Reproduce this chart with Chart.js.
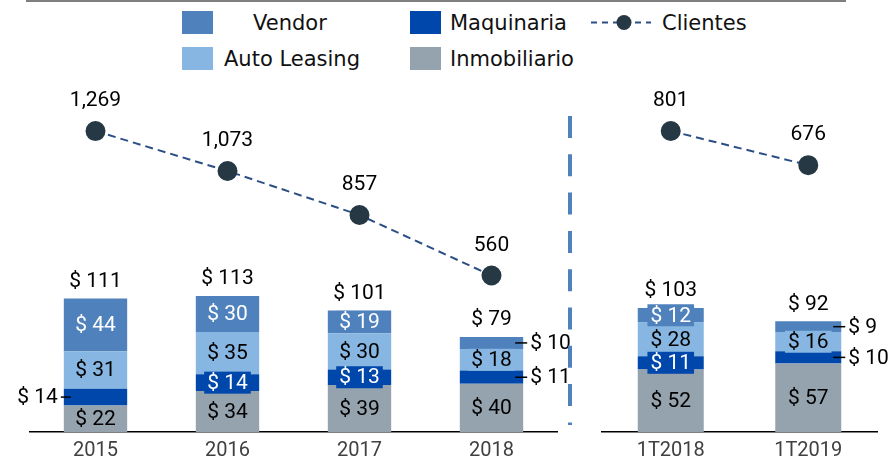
<!DOCTYPE html>
<html>
<head>
<meta charset="utf-8">
<script src="https://cdn.jsdelivr.net/npm/chart.js@4.4.1/dist/chart.umd.min.js"></script>
<style>
html,body{margin:0;padding:0;background:#fff;overflow:hidden}
#wrap{position:relative;width:893px;height:460px;overflow:hidden;font-family:"DejaVu Sans",sans-serif}
#topRule{position:absolute;left:26px;top:0;width:820px;height:2px;background:#7f7f7f}
#left{position:absolute;left:0;top:0}
#right{position:absolute;left:580px;top:0}
.sw{position:absolute;width:31px;height:23px}
.lt{position:absolute;font-size:21px;line-height:24px;color:#111;white-space:nowrap}
</style>
</head>
<body>
<div id="wrap">
  <div id="topRule"></div>
  <div id="legend"></div>
  <canvas id="left" width="580" height="470"></canvas>
  <canvas id="right" width="313" height="470"></canvas>
</div>
<script>
// data (millions of pesos, clients)
const periods = ['2015','2016','2017','2018','1T2018','1T2019']
const vendor = [44,30,19,10,12,9]
const autoLeasing = [31,35,30,18,28,16]
const maquinaria = [14,14,13,11,11,10]
const inmobiliario = [22,34,39,40,52,57]
const totals = [111,113,101,79,103,92]
const clientes = [1269,1073,857,560,801,676]

// where the small segment labels sit
const maquinariaSide = ['left','in','in','right','in','right']
const vendorSide = ['in','in','in','right','in','right']

const numFont = '21px Roboto'

const series = [
  {label:'Inmobiliario', data:inmobiliario, color:'#95a3ae', text:'#000'},
  {label:'Maquinaria', data:maquinaria, color:'#0047ab', text:'#fff', side:maquinariaSide},
  {label:'Auto Leasing', data:autoLeasing, color:'#86b6e1', text:'#000'},
  {label:'Vendor', data:vendor, color:'#4f81bd', text:'#fff', side:vendorSide}
]

const labelPlugin = {
  id:'valueLabels',
  afterDatasetsDraw(chart, args, opts){
    const ctx = chart.ctx
    ctx.save()
    ctx.font = numFont
    ctx.textBaseline = 'middle'
    let lastBars = null
    chart.data.datasets.forEach((ds, di)=>{
      const meta = chart.getDatasetMeta(di)
      if(ds.type === 'line'){
        meta.data.forEach((el, i)=>{
          ctx.fillStyle = '#000'
          ctx.textAlign = 'center'
          ctx.fillText(ds.data[i].toLocaleString('en-US'), el.x, el.y - 30)
        })
        return
      }
      lastBars = meta
      meta.data.forEach((el, i)=>{
        const txt = '$ ' + ds.data[i]
        const cy = (el.y + el.base) / 2
        const side = ds.side ? ds.side[i] : 'in'
        const l = el.x - el.width / 2
        const r = el.x + el.width / 2
        if(side === 'in'){
          const w = ctx.measureText(txt).width + 6
          ctx.fillStyle = ds.backgroundColor
          ctx.fillRect(el.x - w / 2, cy - 11, w, 22)
          ctx.fillStyle = ds.textColor
          ctx.textAlign = 'center'
          ctx.fillText(txt, el.x, cy + 1)
        } else {
          ctx.strokeStyle = '#000'
          ctx.lineWidth = 1.5
          ctx.beginPath()
          if(side === 'left'){
            ctx.moveTo(l - 3, cy); ctx.lineTo(l + 7, cy)
          } else {
            ctx.moveTo(r - 8, cy); ctx.lineTo(r + 4, cy)
          }
          ctx.stroke()
          ctx.fillStyle = '#000'
          ctx.textAlign = side === 'left' ? 'right' : 'left'
          ctx.fillText(txt, side === 'left' ? l - 6 : r + 7, cy + 1)
        }
      })
    })
    if(lastBars){
      lastBars.data.forEach((el, i)=>{
        ctx.fillStyle = '#000'
        ctx.textAlign = 'center'
        ctx.fillText('$ ' + opts.totals[i], el.x, el.y - 17)
      })
    }
    ctx.restore()
  }
}

const sepPlugin = {
  id:'separator',
  afterDraw(chart){
    const ctx = chart.ctx
    ctx.save()
    ctx.strokeStyle = '#4f81bd'
    ctx.lineWidth = 4
    ctx.setLineDash([22,16.3])
    ctx.beginPath()
    ctx.moveTo(570,116)
    ctx.lineTo(570,425)
    ctx.stroke()
    ctx.restore()
  }
}

function makeChart(id, a, b, lineMin, lineMax, pad, extra){
  return new Chart(document.getElementById(id), {
    type:'bar',
    data:{
      labels:periods.slice(a,b),
      datasets:[
        {
          type:'line', label:'Clientes', data:clientes.slice(a,b), yAxisID:'yc',
          borderColor:'#2b4f85', borderWidth:2, borderDash:[8,5],
          pointRadius:9, pointHoverRadius:9,
          pointBackgroundColor:'#263844', pointBorderColor:'#263844',
          order:0
        }
      ].concat(series.map(s=>({
        label:s.label, data:s.data.slice(a,b),
        backgroundColor:s.color, textColor:s.text,
        side:s.side ? s.side.slice(a,b) : null,
        stack:'s', order:1, barPercentage:0.48, categoryPercentage:1
      })))
    },
    options:{
      responsive:false,
      animation:false,
      devicePixelRatio:1,
      layout:{padding:pad},
      plugins:{
        legend:{display:false},
        tooltip:{enabled:false},
        valueLabels:{totals:totals.slice(a,b)}
      },
      scales:{
        x:{
          stacked:true,
          grid:{display:false, drawTicks:false},
          border:{color:'#000', width:1.5},
          ticks:{color:'#404040', font:{family:'Roboto', size:20}, padding:7}
        },
        y:{stacked:true, display:false, min:0, max:280},
        yc:{display:false, min:lineMin, max:lineMax}
      }
    },
    plugins:[labelPlugin].concat(extra)
  })
}

makeChart('left', 0, 4, -208, 1446, {left:29.5, right:22.5, top:95, bottom:0}, [sepPlugin])
makeChart('right', 4, 6, -302, 933, {left:22, right:16, top:95, bottom:0}, [])

// legend, three columns like the original
const legendItems = [
  {name:'Vendor', color:'#4f81bd', box:182, text:253, row:0},
  {name:'Maquinaria', color:'#0047ab', box:410, text:450, row:0},
  {name:'Clientes', line:true, box:590, text:662, row:0},
  {name:'Auto Leasing', color:'#86b6e1', box:182, text:224, row:1},
  {name:'Inmobiliario', color:'#95a3ae', box:410, text:450, row:1}
]
const legend = document.getElementById('legend')
legendItems.forEach(it=>{
  const top = it.row === 0 ? 11 : 47
  if(it.line){
    legend.innerHTML += `<svg style="position:absolute;left:${it.box}px;top:${top}px" width="62" height="23">
      <line x1="1" y1="11.5" x2="61" y2="11.5" stroke="#2b4f85" stroke-width="2" stroke-dasharray="6,5"/>
      <circle cx="34" cy="11.5" r="7.5" fill="#263844"/></svg>`
  } else {
    legend.innerHTML += `<div class="sw" style="left:${it.box}px;top:${top}px;background:${it.color}"></div>`
  }
  legend.innerHTML += `<div class="lt" style="left:${it.text}px;top:${top}px">${it.name}</div>`
})
</script>
</body>
</html>
